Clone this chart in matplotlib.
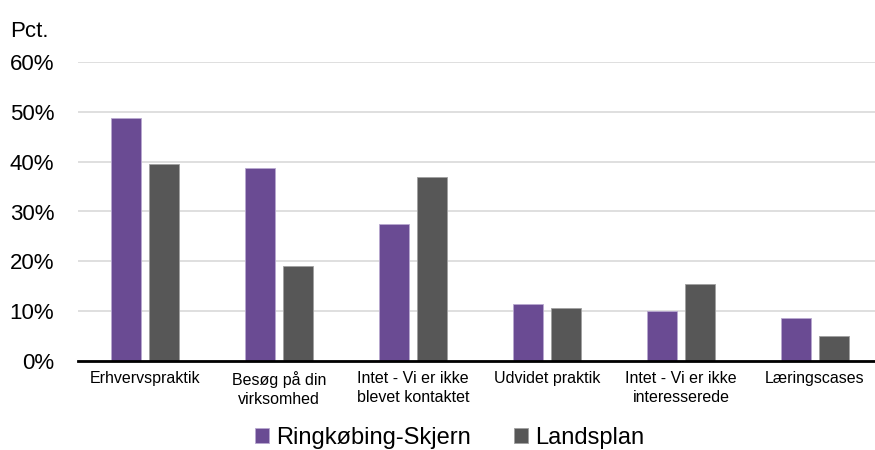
import matplotlib.pyplot as plt
import numpy as np

plt.rcParams['font.family'] = ['Liberation Sans', 'DejaVu Sans']

# data
categories = ['Erhvervspraktik', 'Besøg på din\nvirksomhed', 'Intet - Vi er ikke\nblevet kontaktet',
              'Udvidet praktik', 'Intet - Vi er ikke\ninteresserede', 'Læringscases']
ringkobing = [48.7, 38.7, 27.5, 11.4, 10.0, 8.7]
landsplan = [39.6, 19.1, 37.0, 10.6, 15.5, 5.1]
yticks = [0, 10, 20, 30, 40, 50, 60]

purple = '#6a4b93'
grey = '#575757'

fig = plt.figure(figsize=(8.75, 4.5), dpi=100)
ax = fig.add_axes([0.089, 0.198, 0.919, 0.664])

x = np.arange(len(categories))
w = 0.224
ax.bar(x - 0.141, ringkobing, w, color=purple, edgecolor='#b8a8d0', linewidth=0.6,
       label='Ringkøbing-Skjern', zorder=3)
ax.bar(x + 0.141, landsplan, w, color=grey, edgecolor='#a0a0a0', linewidth=0.6,
       label='Landsplan', zorder=3)

ax.set_xlim(-0.5, len(categories) - 0.5)
ax.set_ylim(0, 60)
ax.set_yticks(yticks)
ax.set_yticklabels([f'{t}%' for t in yticks], fontsize=16)
ax.set_xticks(x)
ax.set_xticklabels(categories, fontsize=11.5, linespacing=1.4)
ax.tick_params(axis='both', length=0)
ax.tick_params(axis='y', pad=17)
ax.tick_params(axis='x', pad=7)
ax.grid(axis='y', color='#d9d9d9', linewidth=1.2, zorder=0)
for s in ['top', 'right', 'left']:
    ax.spines[s].set_visible(False)
ax.spines['bottom'].set_linewidth(2)
ax.spines['bottom'].set_zorder(4)

fig.text(0.012, 0.93, 'Pct.', fontsize=16, va='center', ha='left')

ax.legend(loc='center', bbox_to_anchor=(0.514, 0.027), bbox_transform=fig.transFigure,
          ncol=2, frameon=False, fontsize=17, handlelength=0.6, handleheight=0.6,
          handletextpad=0.3, columnspacing=1.8, borderpad=0)

plt.savefig('out.png', dpi=100)
